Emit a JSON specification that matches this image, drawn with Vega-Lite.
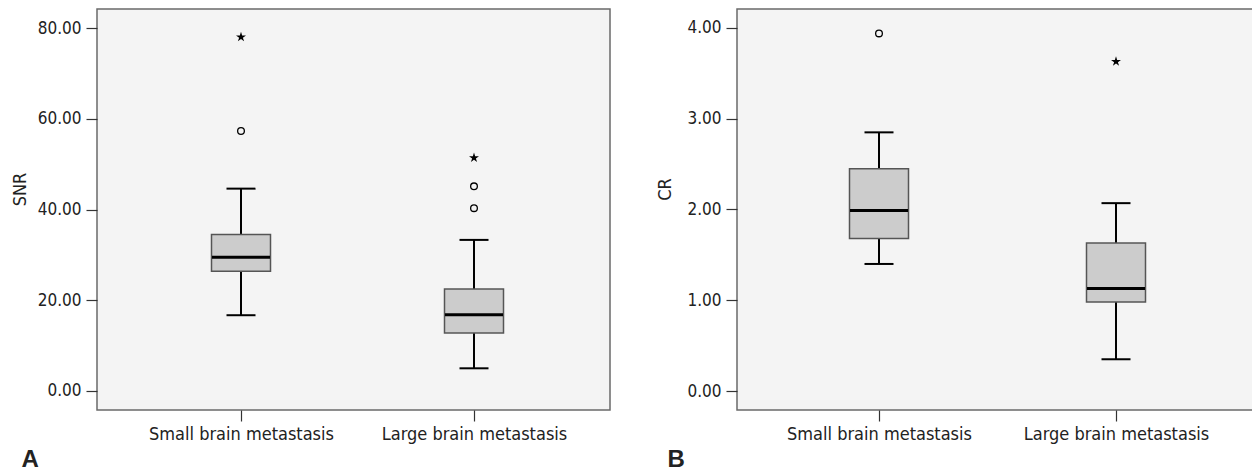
{
  "$schema": "https://vega.github.io/schema/vega-lite/v6.json",
  "padding": {"left": 10, "top": 8, "right": 0, "bottom": 0},
  "background": "white",
  "datasets": {
    "boxes": [
      {"panel": "SNR", "group": "Small brain metastasis", "lower": 16.7, "q1": 26.4, "median": 29.5, "q3": 34.5, "upper": 44.6},
      {"panel": "SNR", "group": "Large brain metastasis", "lower": 5.0, "q1": 12.8, "median": 16.8, "q3": 22.5, "upper": 33.3},
      {"panel": "CR", "group": "Small brain metastasis", "lower": 1.40, "q1": 1.68, "median": 1.99, "q3": 2.45, "upper": 2.85},
      {"panel": "CR", "group": "Large brain metastasis", "lower": 0.35, "q1": 0.98, "median": 1.13, "q3": 1.63, "upper": 2.07}
    ],
    "outliers": [
      {"panel": "SNR", "group": "Small brain metastasis", "value": 78.0, "kind": "extreme"},
      {"panel": "SNR", "group": "Small brain metastasis", "value": 57.3, "kind": "outlier"},
      {"panel": "SNR", "group": "Large brain metastasis", "value": 51.4, "kind": "extreme"},
      {"panel": "SNR", "group": "Large brain metastasis", "value": 45.1, "kind": "outlier"},
      {"panel": "SNR", "group": "Large brain metastasis", "value": 40.3, "kind": "outlier"},
      {"panel": "CR", "group": "Small brain metastasis", "value": 3.94, "kind": "outlier"},
      {"panel": "CR", "group": "Large brain metastasis", "value": 3.63, "kind": "extreme"}
    ]
  },
  "spacing": 44,
  "hconcat": [
    {
      "width": 513,
      "height": 401,
      "encoding": {
        "x": {"field": "group", "type": "nominal", "sort": ["Small brain metastasis", "Large brain metastasis"],
              "scale": {"type": "point", "range": [144, 377], "padding": 0},
              "axis": {"title": "A", "titleX": -76, "titleY": 56, "titleAlign": "left", "titleBaseline": "alphabetic", "titleFontSize": 24, "titleFontWeight": "bold", "titleFont": "Liberation Sans", "labelAngle": 0, "labelFontSize": 18, "labelPadding": 4, "labelLimit": 0}}
      },
      "layer": [
        {"data": {"name": "boxes"}, "transform": [{"filter": "datum.panel === 'SNR'"}],
         "mark": {"type": "rule", "color": "black", "strokeWidth": 2},
         "encoding": {"y": {"field": "lower", "type": "quantitative", "scale": {"domain": [-4.19, 84.19], "nice": false, "zero": false},
            "axis": {"values": [0, 20, 40, 60, 80], "format": ".2f", "title": "SNR", "titleX": -77, "titleY": 180, "titleBaseline": "middle", "titleAngle": 270}},
            "y2": {"field": "upper"}}},
        {"data": {"name": "boxes"}, "transform": [{"filter": "datum.panel === 'SNR'"}],
         "mark": {"type": "tick", "color": "black", "size": 29, "thickness": 2, "opacity": 1},
         "encoding": {"y": {"field": "lower", "type": "quantitative"}}},
        {"data": {"name": "boxes"}, "transform": [{"filter": "datum.panel === 'SNR'"}],
         "mark": {"type": "tick", "color": "black", "size": 29, "thickness": 2, "opacity": 1},
         "encoding": {"y": {"field": "upper", "type": "quantitative"}}},
        {"data": {"name": "boxes"}, "transform": [{"filter": "datum.panel === 'SNR'"}],
         "mark": {"type": "bar", "width": 59, "fill": "#cccccc", "stroke": "#555555", "strokeWidth": 1.5},
         "encoding": {"y": {"field": "q1", "type": "quantitative"}, "y2": {"field": "q3"}}},
        {"data": {"name": "boxes"}, "transform": [{"filter": "datum.panel === 'SNR'"}],
         "mark": {"type": "tick", "color": "black", "size": 58, "thickness": 3, "opacity": 1},
         "encoding": {"y": {"field": "median", "type": "quantitative"}}},
        {"data": {"name": "outliers"}, "transform": [{"filter": "datum.panel === 'SNR' && datum.kind === 'outlier'"}],
         "mark": {"type": "point", "shape": "circle", "filled": false, "size": 45, "stroke": "black", "strokeWidth": 1.3, "opacity": 1},
         "encoding": {"y": {"field": "value", "type": "quantitative"}}},
        {"data": {"name": "outliers"}, "transform": [{"filter": "datum.panel === 'SNR' && datum.kind === 'extreme'"}],
         "mark": {"type": "point", "shape": "M0,-1L0.22,-0.3L0.95,-0.31L0.36,0.12L0.59,0.81L0,0.38L-0.59,0.81L-0.36,0.12L-0.95,-0.31L-0.22,-0.3Z", "filled": true, "size": 110, "color": "black", "opacity": 1},
         "encoding": {"y": {"field": "value", "type": "quantitative"}}}
      ]
    },
    {
      "width": 520,
      "height": 401,
      "encoding": {
        "x": {"field": "group", "type": "nominal", "sort": ["Small brain metastasis", "Large brain metastasis"],
              "scale": {"type": "point", "range": [142, 379], "padding": 0},
              "axis": {"title": "B", "titleX": -70, "titleY": 56, "titleAlign": "left", "titleBaseline": "alphabetic", "titleFontSize": 24, "titleFontWeight": "bold", "titleFont": "Liberation Sans", "labelAngle": 0, "labelFontSize": 18, "labelPadding": 4, "labelLimit": 0}}
      },
      "layer": [
        {"data": {"name": "boxes"}, "transform": [{"filter": "datum.panel === 'CR'"}],
         "mark": {"type": "rule", "color": "black", "strokeWidth": 2},
         "encoding": {"y": {"field": "lower", "type": "quantitative", "scale": {"domain": [-0.209, 4.209], "nice": false, "zero": false},
            "axis": {"values": [0, 1, 2, 3, 4], "format": ".2f", "title": "CR", "titleX": -72, "titleY": 180, "titleBaseline": "middle", "titleAngle": 270}},
            "y2": {"field": "upper"}}},
        {"data": {"name": "boxes"}, "transform": [{"filter": "datum.panel === 'CR'"}],
         "mark": {"type": "tick", "color": "black", "size": 29, "thickness": 2, "opacity": 1},
         "encoding": {"y": {"field": "lower", "type": "quantitative"}}},
        {"data": {"name": "boxes"}, "transform": [{"filter": "datum.panel === 'CR'"}],
         "mark": {"type": "tick", "color": "black", "size": 29, "thickness": 2, "opacity": 1},
         "encoding": {"y": {"field": "upper", "type": "quantitative"}}},
        {"data": {"name": "boxes"}, "transform": [{"filter": "datum.panel === 'CR'"}],
         "mark": {"type": "bar", "width": 59, "fill": "#cccccc", "stroke": "#555555", "strokeWidth": 1.5},
         "encoding": {"y": {"field": "q1", "type": "quantitative"}, "y2": {"field": "q3"}}},
        {"data": {"name": "boxes"}, "transform": [{"filter": "datum.panel === 'CR'"}],
         "mark": {"type": "tick", "color": "black", "size": 58, "thickness": 3, "opacity": 1},
         "encoding": {"y": {"field": "median", "type": "quantitative"}}},
        {"data": {"name": "outliers"}, "transform": [{"filter": "datum.panel === 'CR' && datum.kind === 'outlier'"}],
         "mark": {"type": "point", "shape": "circle", "filled": false, "size": 45, "stroke": "black", "strokeWidth": 1.3, "opacity": 1},
         "encoding": {"y": {"field": "value", "type": "quantitative"}}},
        {"data": {"name": "outliers"}, "transform": [{"filter": "datum.panel === 'CR' && datum.kind === 'extreme'"}],
         "mark": {"type": "point", "shape": "M0,-1L0.22,-0.3L0.95,-0.31L0.36,0.12L0.59,0.81L0,0.38L-0.59,0.81L-0.36,0.12L-0.95,-0.31L-0.22,-0.3Z", "filled": true, "size": 110, "color": "black", "opacity": 1},
         "encoding": {"y": {"field": "value", "type": "quantitative"}}}
      ]
    }
  ],
  "config": {
    "font": "DejaVu Sans Condensed",
    "view": {"fill": "#f4f4f4", "stroke": "#6a6a6a", "strokeWidth": 1.5},
    "axis": {"labelFont": "DejaVu Sans Condensed", "titleFont": "DejaVu Sans Condensed", "labelFontSize": 17, "titleFontSize": 18, "titleFontWeight": "normal",
             "labelColor": "#222222", "titleColor": "#222222", "tickColor": "#333333", "tickWidth": 1.2, "tickSize": 11, "labelPadding": 5,
             "domain": false, "grid": false}
  }
}
